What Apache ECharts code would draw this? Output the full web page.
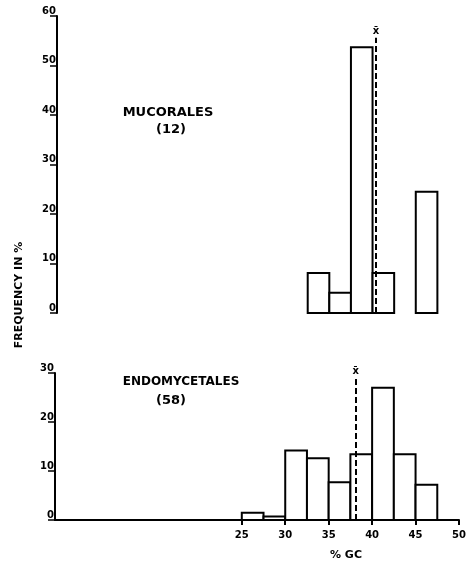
<!DOCTYPE html>
<html>
<head>
<meta charset="utf-8">
<script src="https://cdn.jsdelivr.net/npm/echarts@6/dist/echarts.min.js"></script>
<style>html,body{margin:0;padding:0;background:#fff}#c{width:474px;height:563px}</style>
</head>
<body>
<div id="c"></div>
<script>
// ---- data ----
const BIN_WIDTH = 2.5;
const mucBinStarts = [32.5, 35, 37.5, 40, 45];
const mucValues = [8.1, 4.1, 53.7, 8.1, 24.5];
const mucMean = 40.4;
const mucMeanLineTop = 55.6;

const endoBinStarts = [25, 27.5, 30, 32.5, 35, 37.5, 40, 42.5, 45];
const endoValues = [1.5, 0.7, 14.2, 12.6, 7.7, 13.4, 27.0, 13.4, 7.2];
const endoMean = 38.1;
const endoMeanLineTop = 29;

const xTicks = [25, 30, 35, 40, 45, 50];
const topYTicks = [0, 10, 20, 30, 40, 50, 60];
const botYTicks = [0, 10, 20, 30];

const FONT = 'DejaVu Sans';

function pairs(a, b) { return a.map((v, i) => [v, b[i]]); }

function renderBin(params, api) {
  const x0 = api.value(0), y = api.value(1);
  const p0 = api.coord([x0, y]);
  const p1 = api.coord([x0 + BIN_WIDTH, 0]);
  return {
    type: 'rect',
    shape: { x: p0[0], y: p0[1], width: p1[0] - p0[0], height: p1[1] - p0[1] },
    style: { fill: '#fff', stroke: '#000', lineWidth: 2 }
  };
}

function meanLine(mean, top) {
  return {
    symbol: ['none', 'none'],
    silent: true,
    lineStyle: { type: [6, 3], color: '#000', width: 2 },
    label: { show: true, position: 'end', formatter: 'x\u0304', color: '#000', fontWeight: 'bold', fontSize: 10, fontFamily: FONT, distance: 1 },
    data: [[{ coord: [mean, 0] }, { coord: [mean, top] }]]
  };
}

const axisLbl = { color: '#000', fontSize: 10, fontWeight: 'bold', fontFamily: FONT };

const chart = echarts.init(document.getElementById('c'));
chart.setOption({
  animation: false,
  backgroundColor: '#fff',
  grid: [
    { left: 57, top: 16, width: 402, height: 297 },
    { left: 55, top: 373, width: 404, height: 147 }
  ],
  xAxis: [
    { gridIndex: 0, type: 'value', min: 3.5, max: 50, show: false },
    {
      gridIndex: 1, type: 'value', min: 3.5, max: 50,
      splitLine: { show: false },
      axisLine: { lineStyle: { color: '#000', width: 2 } },
      axisTick: { customValues: xTicks, length: 5, lineStyle: { color: '#000', width: 2 } },
      axisLabel: Object.assign({ customValues: xTicks, margin: 10 }, axisLbl)
    }
  ],
  yAxis: [
    {
      gridIndex: 0, type: 'value', min: 0, max: 60,
      splitLine: { show: false },
      axisLine: { show: true, lineStyle: { color: '#000', width: 2 } },
      axisTick: { customValues: topYTicks, length: 7, lineStyle: { color: '#000', width: 1.5 } },
      axisLabel: Object.assign({ customValues: topYTicks, margin: 1, verticalAlign: 'bottom' }, axisLbl)
    },
    {
      gridIndex: 1, type: 'value', min: 0, max: 30,
      splitLine: { show: false },
      axisLine: { show: true, lineStyle: { color: '#000', width: 2 } },
      axisTick: { customValues: botYTicks, length: 7, lineStyle: { color: '#000', width: 1.5 } },
      axisLabel: Object.assign({ customValues: botYTicks, margin: 1, verticalAlign: 'bottom' }, axisLbl)
    }
  ],
  series: [
    {
      type: 'custom', xAxisIndex: 0, yAxisIndex: 0,
      renderItem: renderBin,
      data: pairs(mucBinStarts, mucValues),
      markLine: meanLine(mucMean, mucMeanLineTop),
      z: 2
    },
    {
      type: 'custom', xAxisIndex: 1, yAxisIndex: 1,
      renderItem: renderBin,
      data: pairs(endoBinStarts, endoValues),
      markLine: meanLine(endoMean, endoMeanLineTop),
      z: 2
    }
  ],
  graphic: [
    { type: 'text', x: 168, y: 113, style: { text: 'MUCORALES', align: 'center', verticalAlign: 'middle', font: 'bold 13px "DejaVu Sans"', fill: '#000' } },
    { type: 'text', x: 171, y: 130, style: { text: '(12)', align: 'center', verticalAlign: 'middle', font: 'bold 13px "DejaVu Sans"', fill: '#000' } },
    { type: 'text', x: 181, y: 382, style: { text: 'ENDOMYCETALES', align: 'center', verticalAlign: 'middle', font: 'bold 12px "DejaVu Sans"', fill: '#000' } },
    { type: 'text', x: 171, y: 401, style: { text: '(58)', align: 'center', verticalAlign: 'middle', font: 'bold 13px "DejaVu Sans"', fill: '#000' } },
    { type: 'text', x: 19, y: 295, rotation: Math.PI / 2, style: { text: 'FREQUENCY IN %', align: 'center', verticalAlign: 'middle', font: 'bold 11px "DejaVu Sans"', fill: '#000' } },
    { type: 'text', x: 346, y: 555, style: { text: '% GC', align: 'center', verticalAlign: 'middle', font: 'bold 11px "DejaVu Sans"', fill: '#000' } }
  ]
});
</script>
</body>
</html>
